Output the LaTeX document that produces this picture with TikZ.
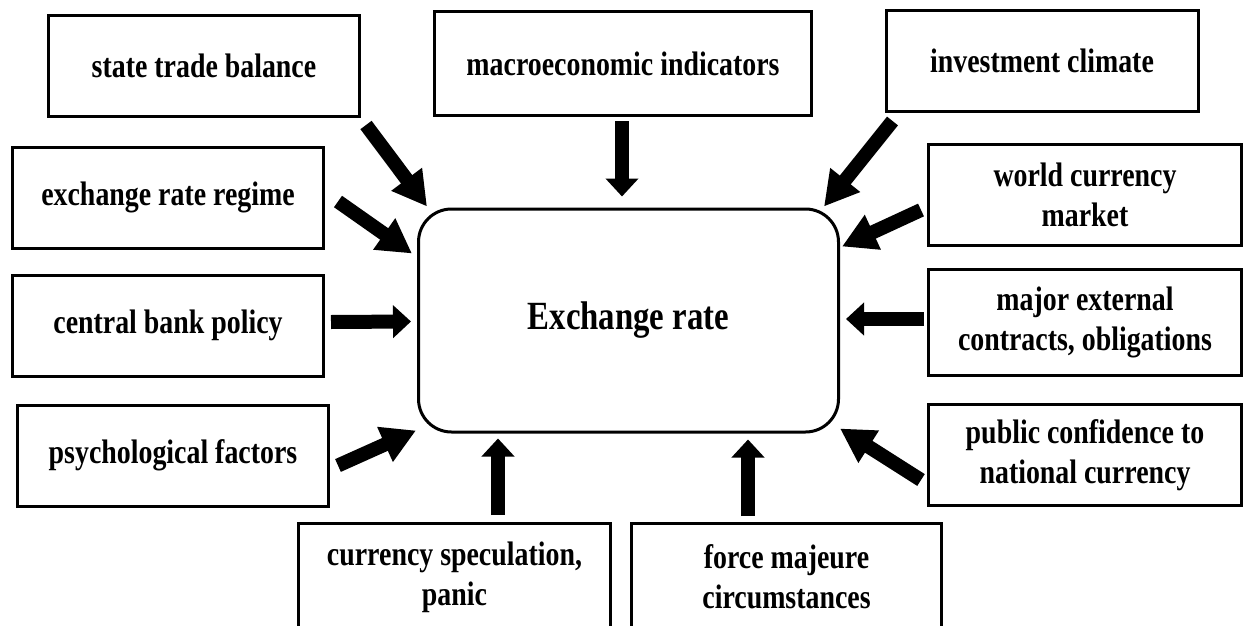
\documentclass[tikz,border=0pt]{standalone}
\usepackage{fontspec}
\setmainfont{Liberation Serif}[FakeStretch=0.82]
\usetikzlibrary{arrows.meta,calc}

\begin{document}
\begin{tikzpicture}[x=1pt,y=-1pt,font=\bfseries\fontsize{34}{40}\selectfont]
  \tikzset{factor/.style={draw, line width=3pt, align=center, inner sep=0pt, minimum width=311pt, minimum height=101pt}, rate/.style={draw, line width=3pt, rounded corners=33pt, minimum width=420pt, minimum height=223pt, font=\bfseries\fontsize{40}{44}\selectfont}, fatarrow/.style={line width=14pt, -{Triangle[length=34pt,width=36pt]}}, flatarrow/.style={line width=14pt, -{Triangle[length=18pt,width=32pt]}}}
  \useasboundingbox (0,0) rectangle (1244,626);
  \clip (0,0) rectangle (1244,626);
  \node[rate] (R) at (628.5,320.5) {Exchange rate};
  \node[factor] (stb) at (204,66) {state trade balance};
  \node[factor, minimum width=377pt, minimum height=104pt] (mac) at (623,63.5) {macroeconomic indicators};
  \node[factor, minimum width=312pt] (inv) at (1042,61) {investment climate};
  \node[factor] (err) at (168,197.5) {exchange rate regime};
  \node[factor, minimum width=313pt] (wcm) at (1085,195) {world currency\\market};
  \node[factor] (cbp) at (168,325.5) {central bank policy};
  \node[factor, minimum width=313pt, minimum height=106pt] (mec) at (1085,322.5) {major external\\contracts, obligations};
  \node[factor] (psy) at (173,455.5) {psychological factors};
  \node[factor, minimum width=313pt] (pub) at (1085,455) {public confidence to\\national currency};
  \node[factor, minimum width=312pt, minimum height=107pt] (cur) at (454.5,577) {currency speculation,\\panic};
  \node[factor, minimum width=310pt, minimum height=107pt] (frc) at (786.5,577) {force majeure\\circumstances};
  \draw[fatarrow] ([shift={(5,7)}]stb.south east) -- ([shift={(10,-1)}]R.north west);
  \draw[flatarrow] ([shift={(-1,4)}]mac.south) -- ([shift={(-6.5,-11)}]R.north);
  \draw[fatarrow] ([shift={(8,8)}]inv.south west) -- ([shift={(-16,-1)}]R.north east);
  \draw[fatarrow] ([shift={(13,4)}]err.east) -- ([shift={(-5,46)}]R.north west);
  \draw[fatarrow] ([shift={(-6,15)}]wcm.west) -- ([shift={(2,39)}]R.north east);
  \draw[flatarrow] ([shift={(6,-3.5)}]cbp.east) -- ([shift={(-6,1)}]R.west);
  \draw[flatarrow] ([shift={(-3,-3.5)}]mec.west) -- ([shift={(6,-1.5)}]R.east);
  \draw[fatarrow] ([shift={(8,10)}]psy.east) -- ([shift={(-1,-3)}]R.south west);
  \draw[fatarrow] ([shift={(-6,25)}]pub.west) -- ([shift={(0,-5)}]R.south east);
  \draw[flatarrow] ([shift={(43.5,-7)}]cur.north) -- ([shift={(-130.5,5)}]R.south);
  \draw[flatarrow] ([shift={(-38.5,-6)}]frc.north) -- ([shift={(119.5,6)}]R.south);
\end{tikzpicture}
\end{document}
